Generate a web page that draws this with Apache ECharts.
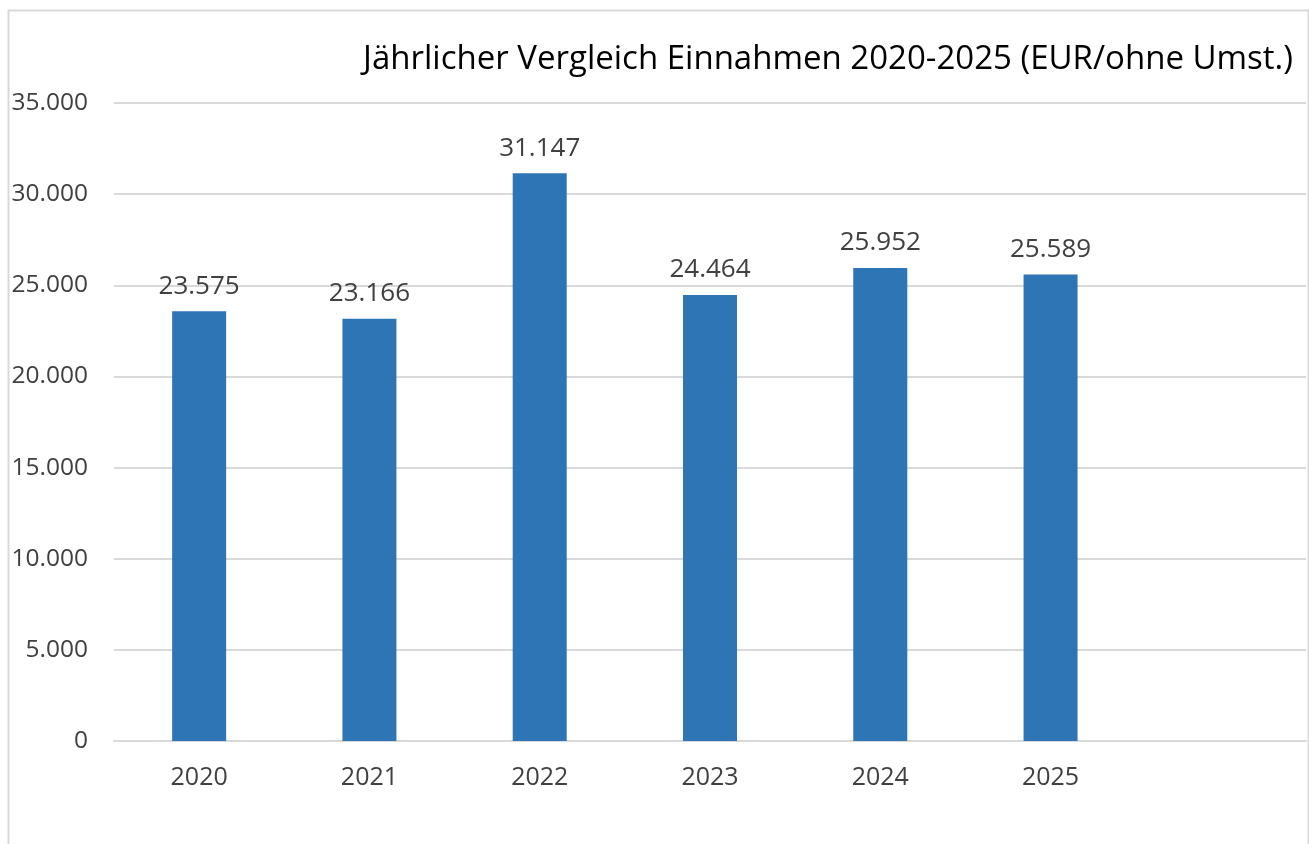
<!DOCTYPE html>
<html><head><meta charset="utf-8">
<script src="https://cdn.jsdelivr.net/npm/echarts@6/dist/echarts.min.js"></script>
<style>html,body{margin:0;padding:0;background:#fff}#c{width:1309px;height:844px}</style>
</head><body><div id="c"></div>
<script>
const categories = ['2020','2021','2022','2023','2024','2025',''];
const values = [23575, 23166, 31147, 24464, 25952, 25589, null];
const yTicks = [0, 5000, 10000, 15000, 20000, 25000, 30000, 35000];
const titleText = 'Jährlicher Vergleich Einnahmen 2020-2025 (EUR/ohne Umst.)';

const fmt = v => String(v).replace(/\B(?=(\d{3})+(?!\d))/g, '.');
const font = 'Open Sans';
const chart = echarts.init(document.getElementById('c'));
chart.setOption({
  animation: false,
  backgroundColor: '#fff',
  textStyle: { fontFamily: font },
  title: {
    text: titleText, right: 11, top: 38,
    textStyle: { fontFamily: font, fontSize: 33, fontWeight: 'normal', color: '#000' }
  },
  graphic: [{
    type: 'rect', left: 6, top: 8, silent: true,
    shape: { width: 1300, height: 900 },
    style: { fill: 'none', stroke: '#d9d9d9', lineWidth: 2 }
  }],
  grid: { left: 114, right: 3, top: 103, bottom: 103 },
  xAxis: {
    type: 'category', data: categories,
    axisLine: { lineStyle: { color: '#d9d9d9', width: 2 } },
    axisTick: { show: false },
    axisLabel: { color: '#404040', fontSize: 25, margin: 24, fontFamily: font }
  },
  yAxis: {
    type: 'value', min: yTicks[0], max: yTicks[yTicks.length - 1], interval: 5000,
    axisLine: { show: false }, axisTick: { show: false },
    splitLine: { lineStyle: { color: '#d9d9d9', width: 2 } },
    axisLabel: { color: '#404040', fontSize: 24.5, margin: 26, fontFamily: font, formatter: v => fmt(v) }
  },
  series: [{
    type: 'bar', data: values, barWidth: 54,
    itemStyle: { color: '#2E75B6' },
    label: {
      show: true, position: 'top', distance: 12,
      color: '#404040', fontSize: 26, fontFamily: font,
      formatter: p => fmt(p.value)
    }
  }]
});
</script></body></html>
